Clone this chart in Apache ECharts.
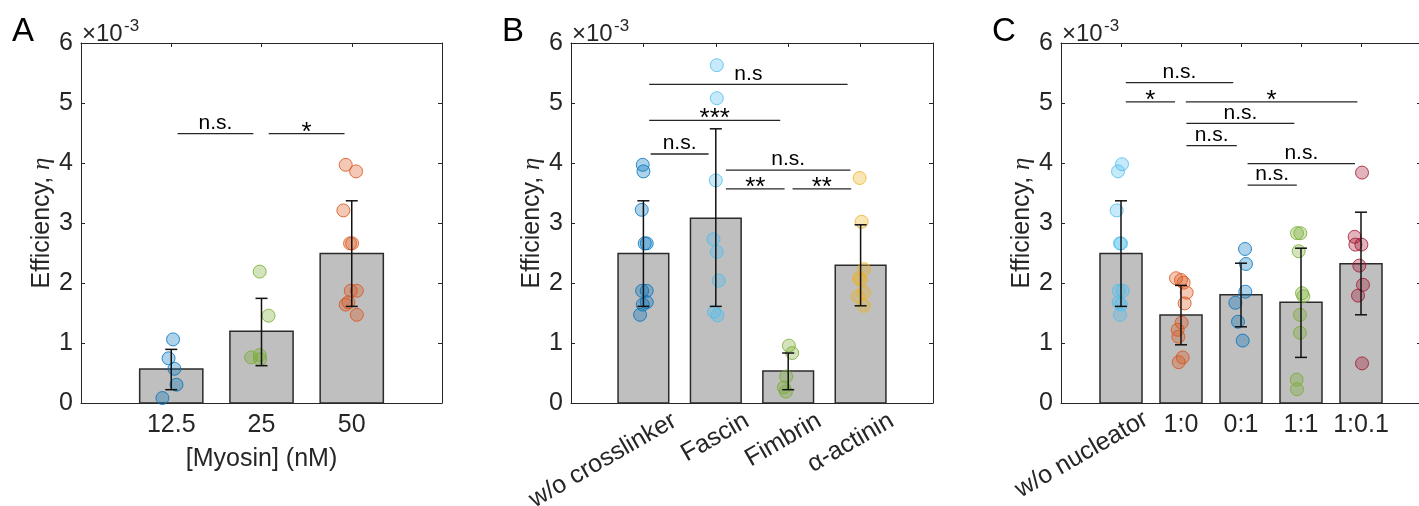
<!DOCTYPE html>
<html>
<head>
<meta charset="utf-8">
<title>Efficiency</title>
<script src="https://cdn.jsdelivr.net/npm/echarts@6/dist/echarts.min.js"></script>
<style>
  html, body { margin: 0; padding: 0; background: #fff; }
  #chart { width: 1419px; height: 506px; }
</style>
</head>
<body>
<div id="chart"></div>
<script>
// ---- data (efficiency in units of 1e-3) ----

// A: myosin concentration
const myosinCats = ['12.5', '25', '50']
const myosinMeans = [0.567, 1.194, 2.49]
const myosinErr = [[0.222, 0.894], [0.622, 1.744], [1.61, 3.37]]
const myosinPoints = [
  [1.06, 0.745, 0.57, 0.305, 0.083],
  [2.19, 1.455, 0.80, 0.76, 0.73],
  [3.97, 3.86, 3.21, 2.66, 2.66, 1.87, 1.87, 1.68, 1.64, 1.47]
]
const myosinJitter = [
  [0.02, -0.03, 0.035, 0.058, -0.098],
  [-0.02, 0.078, -0.02, -0.115, -0.015],
  [-0.067, 0.048, -0.093, -0.019, 0.004, -0.011, 0.056, -0.037, -0.067, 0.056]
]
const myosinSig = [[1.07, 1.91, 4.49], [2.08, 2.92, 4.49]]
const myosinSigText = ['n.s.', '*']

// B: crosslinkers
const linkerCats = ['w/o crosslinker', 'Fascin', 'Fimbrin', 'α-actinin']
const linkerMeans = [2.49, 3.08, 0.533, 2.294]
const linkerErr = [[1.61, 3.37], [1.61, 4.57], [0.222, 0.833], [1.62, 2.97]]
const linkerPoints = [
  [3.97, 3.86, 3.22, 2.66, 2.66, 1.87, 1.87, 1.68, 1.64, 1.47],
  [5.63, 5.08, 3.71, 2.73, 2.52, 2.04, 1.52, 1.46],
  [0.956, 0.833, 0.44, 0.26, 0.19],
  [3.75, 3.02, 2.23, 2.08, 2.05, 1.84, 1.78, 1.62]
]
const linkerJitter = [
  [-0.009, 0, -0.023, 0.018, 0.046, -0.018, 0.046, 0.046, -0.009, -0.046],
  [0.014, 0.014, 0, -0.032, 0.014, 0.041, -0.023, 0.023],
  [0.009, 0.055, -0.028, -0.06, -0.032],
  [-0.014, 0.014, 0.046, -0.023, 0, 0.046, -0.037, 0.046]
]
const linkerSig = [
  [1.08, 3.82, 5.31], [1.08, 2.89, 4.71], [1.10, 1.90, 4.15],
  [2.14, 3.86, 3.88], [2.14, 2.95, 3.57], [3.06, 3.87, 3.57]
]
const linkerSigText = ['n.s', '***', 'n.s.', 'n.s.', '**', '**']

// C: nucleators [Arp2/3]:[mDia1]
const nucCats = ['w/o nucleator', '1:0', '0:1', '1:1', '1:0.1']
const nucMeans = [2.49, 1.467, 1.806, 1.678, 2.32]
const nucErr = [[1.61, 3.37], [0.97, 1.96], [1.27, 2.33], [0.76, 2.58], [1.47, 3.18]]
const nucPoints = [
  [3.98, 3.86, 3.21, 2.66, 2.66, 1.87, 1.87, 1.68, 1.64, 1.47],
  [2.08, 2.05, 2.005, 1.84, 1.66, 1.34, 1.22, 1.105, 0.76, 0.68],
  [2.567, 2.317, 1.855, 1.67, 1.355, 1.04],
  [2.83, 2.83, 2.53, 1.83, 1.78, 1.47, 1.17, 0.39, 0.23],
  [3.84, 2.77, 2.64, 2.64, 2.29, 1.97, 1.79, 0.66]
]
const nucJitter = [
  [0.017, -0.05, -0.072, -0.017, 0, -0.039, 0.028, -0.039, 0, -0.017],
  [-0.083, 0, 0.044, 0.094, 0.061, 0.011, -0.056, -0.044, 0.028, -0.039],
  [0.067, 0.083, 0.072, -0.094, -0.05, 0.028],
  [-0.067, -0.011, -0.039, 0.017, 0.039, -0.017, -0.017, -0.072, -0.067],
  [0.017, -0.106, -0.094, 0.006, -0.028, 0.033, -0.05, 0.017]
]
const nucSig = [
  [1.08, 2.87, 5.34], [1.08, 1.90, 5.02], [2.08, 4.94, 5.02], [2.09, 3.89, 4.66],
  [2.09, 2.93, 4.29], [3.11, 4.90, 3.99], [3.11, 3.93, 3.63]
]
const nucSigText = ['n.s.', '*', '*', 'n.s.', 'n.s.', 'n.s.', 'n.s.']

// ---- styles ----
const FONT = '"Liberation Sans", Arial, Helvetica, sans-serif'
const AXIS_COLOR = '#262626'
const BLUE = '#0072BD'
const LIGHT_BLUE = '#4DBEEE'
const ORANGE = '#D95319'
const YELLOW = '#EDB120'
const GREEN = '#77AC30'
const CRIMSON = '#A2142F'
const FS = 25 // axis font size
const BAR_HALF = 0.35 // half bar width, in category units
const CAP = 6 // error bar cap half width (px)

const panels = [
  {
    letter: 'A', box: [81, 43, 361, 360], cats: myosinCats, means: myosinMeans, err: myosinErr,
    points: myosinPoints, jitter: myosinJitter, sig: myosinSig, sigText: myosinSigText,
    colors: [BLUE, GREEN, ORANGE], xName: '[Myosin] (nM)', rotate: 'none'
  },
  {
    letter: 'B', box: [571, 43, 362, 360], cats: linkerCats, means: linkerMeans, err: linkerErr,
    points: linkerPoints, jitter: linkerJitter, sig: linkerSig, sigText: linkerSigText,
    colors: [BLUE, LIGHT_BLUE, GREEN, YELLOW], xName: '', rotate: 'all'
  },
  {
    letter: 'C', box: [1061, 43, 360, 360], cats: nucCats, means: nucMeans, err: nucErr,
    points: nucPoints, jitter: nucJitter, sig: nucSig, sigText: nucSigText,
    colors: [LIGHT_BLUE, ORANGE, BLUE, GREEN, CRIMSON], xName: '[Arp2/3]:[mDia1]', rotate: 'first'
  }
]

function fade(hex, a) {
  const n = parseInt(hex.slice(1), 16)
  return `rgba(${n >> 16},${(n >> 8) & 255},${n & 255},${a})`
}

function catFormatter(cats, keep) {
  return (v) => (Number.isInteger(v) && v >= 1 && v <= cats.length && keep(v)) ? cats[v - 1] : ''
}

const lineStyle = { color: AXIS_COLOR, width: 1 }
const tickStyle = { show: true, inside: true, length: 4, lineStyle: { color: AXIS_COLOR, width: 1 } }
const labelText = { fontSize: FS, fontFamily: FONT, color: AXIS_COLOR }

function renderBar(params, api) {
  const x = api.value(0)
  const p0 = api.coord([x - BAR_HALF, api.value(1)])
  const p1 = api.coord([x + BAR_HALF, 0])
  return {
    type: 'rect',
    shape: { x: p0[0], y: p0[1], width: p1[0] - p0[0], height: p1[1] - p0[1] },
    style: { fill: '#BFBFBF', stroke: '#2b2b2b', lineWidth: 1.5 }
  }
}

function renderErr(params, api) {
  const x = api.value(0)
  const lo = api.coord([x, api.value(1)])
  const hi = api.coord([x, api.value(2)])
  const st = { stroke: '#111', lineWidth: 1.5 }
  return {
    type: 'group',
    children: [
      { type: 'line', shape: { x1: lo[0], y1: lo[1], x2: hi[0], y2: hi[1] }, style: st },
      { type: 'line', shape: { x1: lo[0] - CAP, y1: lo[1], x2: lo[0] + CAP, y2: lo[1] }, style: st },
      { type: 'line', shape: { x1: hi[0] - CAP, y1: hi[1], x2: hi[0] + CAP, y2: hi[1] }, style: st }
    ]
  }
}

function renderSig(texts) {
  return function (params, api) {
    const a = api.coord([api.value(0), api.value(2)])
    const b = api.coord([api.value(1), api.value(2)])
    const txt = texts[params.dataIndex]
    const star = txt.indexOf('*') >= 0
    return {
      type: 'group',
      children: [
        { type: 'line', shape: { x1: a[0], y1: a[1], x2: b[0], y2: b[1] }, style: { stroke: AXIS_COLOR, lineWidth: 1.3 } },
        {
          type: 'text', x: (a[0] + b[0]) / 2, y: star ? a[1] - 1.2 : a[1],
          style: {
            text: txt, fill: '#000', align: 'center', verticalAlign: star ? 'middle' : 'bottom',
            font: (star ? '26px ' : '21px ') + FONT
          }
        }
      ]
    }
  }
}

const grid = []
const xAxis = []
const yAxis = []
const series = []
const graphic = []

panels.forEach((p, gi) => {
  const n = p.cats.length
  grid.push({ left: p.box[0], top: p.box[1], width: p.box[2], height: p.box[3], outerBoundsMode: 'none' })

  const xBase = { type: 'value', gridIndex: gi, min: 0, max: n + 1, interval: 1, splitLine: { show: false } }
  const xi = xAxis.length
  const rotated = p.rotate === 'all' ? [0, -36, 0, 0] : [0, -29, 0, 0]
  // bottom axis with category labels
  xAxis.push(Object.assign({}, xBase, {
    position: 'bottom',
    axisLine: { show: true, onZero: false, lineStyle },
    axisTick: tickStyle,
    axisLabel: Object.assign({}, labelText, p.rotate === 'none'
      ? { margin: 10, formatter: catFormatter(p.cats, () => true) }
      : {
          rotate: 30, margin: p.rotate === 'all' ? 34 : 29, padding: rotated,
          formatter: catFormatter(p.cats, (v) => p.rotate === 'all' || v === 1)
        }),
    name: p.xName,
    nameLocation: 'middle',
    nameGap: 44,
    nameTextStyle: Object.assign({}, labelText, p.rotate === 'first' ? { padding: [0, 0, 0, 68] } : {})
  }))
  // top frame
  xAxis.push(Object.assign({}, xBase, {
    position: 'top', axisLine: { show: true, onZero: false, lineStyle }, axisTick: tickStyle, axisLabel: { show: false }
  }))
  if (p.rotate === 'first') {
    // horizontal labels for the ratio categories
    xAxis.push(Object.assign({}, xBase, {
      position: 'bottom', axisLine: { show: false, onZero: false }, axisTick: { show: false },
      axisLabel: Object.assign({}, labelText, { margin: 10, formatter: catFormatter(p.cats, (v) => v > 1) })
    }))
  }

  const yi = yAxis.length
  const yBase = { type: 'value', gridIndex: gi, min: 0, max: 6, interval: 1, splitLine: { show: false } }
  yAxis.push(Object.assign({}, yBase, {
    position: 'left',
    axisLine: { show: true, onZero: false, lineStyle },
    axisTick: tickStyle,
    axisLabel: Object.assign({}, labelText, { margin: 8 }),
    name: 'Efficiency, {eta|η}',
    nameLocation: 'middle',
    nameGap: 26,
    nameTextStyle: Object.assign({}, labelText, {
      rich: { eta: { fontSize: FS, fontFamily: '"Liberation Serif", "Times New Roman", serif', fontStyle: 'italic', color: AXIS_COLOR } }
    })
  }))
  yAxis.push(Object.assign({}, yBase, {
    position: 'right', axisLine: { show: true, onZero: false, lineStyle }, axisTick: tickStyle, axisLabel: { show: false }
  }))

  const coord = { coordinateSystem: 'cartesian2d', xAxisIndex: xi, yAxisIndex: yi }

  series.push(Object.assign({
    type: 'custom', renderItem: renderBar, z: 1,
    encode: { x: 0, y: 1 },
    data: p.means.map((m, i) => [i + 1, m])
  }, coord))

  p.points.forEach((vals, g) => {
    series.push(Object.assign({
      type: 'scatter', symbol: 'circle', symbolSize: 13, z: 2,
      itemStyle: { color: fade(p.colors[g], 0.4), borderColor: p.colors[g], borderWidth: 1 },
      data: vals.map((v, k) => [g + 1 + p.jitter[g][k], v])
    }, coord))
  })

  series.push(Object.assign({
    type: 'custom', renderItem: renderErr, z: 3,
    encode: { x: 0, y: [1, 2] },
    data: p.err.map((e, i) => [i + 1, e[0], e[1]])
  }, coord))

  series.push(Object.assign({
    type: 'custom', renderItem: renderSig(p.sigText), z: 4,
    encode: { x: [0, 1], y: 2 },
    data: p.sig
  }, coord))

  // panel letter and exponent
  const left = p.box[0]
  graphic.push({
    type: 'text', x: left - 69, y: 31.5,
    style: { text: p.letter, font: '33px ' + FONT, fill: '#000', align: 'left', verticalAlign: 'middle' }
  })
  graphic.push({
    type: 'text', x: left + 1, y: 34.7,
    style: { text: '×10', font: '24px ' + FONT, fill: AXIS_COLOR, align: 'left', verticalAlign: 'middle' }
  })
  graphic.push({
    type: 'text', x: left + 43, y: 26,
    style: { text: '-3', font: '17px ' + FONT, fill: AXIS_COLOR, align: 'left', verticalAlign: 'middle' }
  })
})

const chart = echarts.init(document.getElementById('chart'))
chart.setOption({
  animation: false,
  backgroundColor: '#fff',
  textStyle: { fontFamily: FONT },
  grid,
  xAxis,
  yAxis,
  series,
  graphic
})
</script>
</body>
</html>
